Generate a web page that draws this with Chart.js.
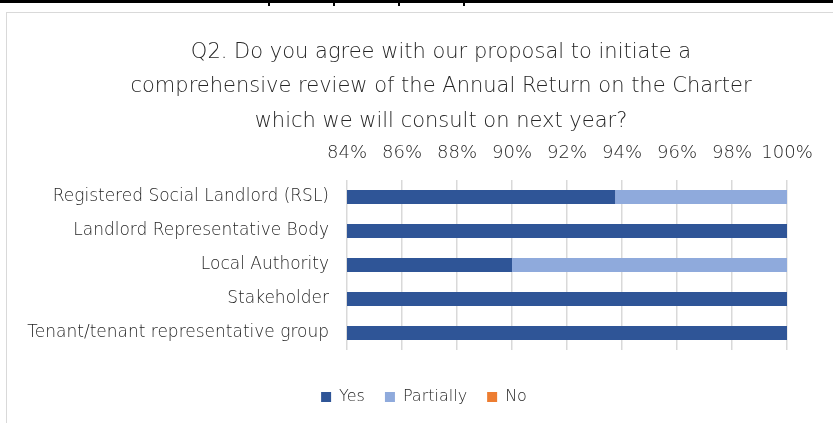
<!DOCTYPE html>
<html>
<head>
<meta charset="utf-8">
<script src="https://cdn.jsdelivr.net/npm/chart.js@4/dist/chart.umd.min.js"></script>
<style>
  html, body { margin: 0; padding: 0; background: #fff; }
  #wrap { position: relative; width: 833px; height: 423px; overflow: hidden; }
  /* table rule above the chart frame */
  .rule { position: absolute; left: 0; top: 0; width: 833px; height: 3px; background: #000; }
  .tick { position: absolute; top: 0; width: 2px; height: 6px; background: #000; }
  .frame { position: absolute; left: 6px; top: 12px; width: 840px; height: 430px; border: 1px solid #d9d9d9; }
  canvas { position: absolute; left: 0; top: 0; }
</style>
</head>
<body>
<div id="wrap">
  <div class="rule"></div>
  <div class="tick" style="left:268px"></div>
  <div class="tick" style="left:333px"></div>
  <div class="tick" style="left:398px"></div>
  <div class="tick" style="left:463px"></div>
  <div class="frame"></div>
  <canvas id="chart" width="833" height="423"></canvas>
</div>
<script>
  // respondent groups, top to bottom
  const categories = [
    'Registered Social Landlord (RSL)',
    'Landlord Representative Body',
    'Local Authority',
    'Stakeholder',
    'Tenant/tenant representative group'
  ];

  // share of responses, in percent
  const yesValues = [93.75, 100, 90, 100, 100];
  const partiallyValues = [6.25, 0, 10, 0, 0];
  const noValues = [0, 0, 0, 0, 0];

  const titleLines = [
    'Q2. Do you agree with our proposal to initiate a',
    'comprehensive review of the Annual Return on the Charter',
    'which we will consult on next year?'
  ];

  const FONT = "'DejaVu Sans', sans-serif";
  const TEXT = '#262626';

  // title sits centred over the whole frame, legend a little left of the plot
  const boxNudge = {
    id: 'boxNudge',
    afterLayout(chart) {
      const t = chart.titleBlock;
      t.left = 95;
      t.right = 787;
      const l = chart.legend;
      l.left = 61;
      l.right = 787;
      l.top += 19;
      l.bottom += 19;
    }
  };

  const ctx = document.getElementById('chart');

  new Chart(ctx, {
    type: 'bar',
    data: {
      labels: categories,
      datasets: [
        { label: 'Yes', data: yesValues, backgroundColor: '#2f5597' },
        { label: 'Partially', data: partiallyValues, backgroundColor: '#8faadc' },
        { label: 'No', data: noValues, backgroundColor: '#ed7d31' }
      ]
    },
    plugins: [boxNudge],
    options: {
      indexAxis: 'y',
      responsive: false,
      animation: false,
      devicePixelRatio: 1,
      datasets: {
        bar: { categoryPercentage: 1, barPercentage: 0.41 }
      },
      layout: {
        padding: { left: 10, right: 46, top: 22, bottom: 27 }
      },
      plugins: {
        title: {
          display: true,
          text: titleLines,
          color: TEXT,
          font: { family: FONT, size: 21, weight: 200, lineHeight: 1.62 },
          padding: { top: 14, bottom: 0 }
        },
        legend: {
          position: 'bottom',
          labels: {
            color: TEXT,
            font: { family: FONT, size: 16, weight: 200 },
            boxWidth: 10,
            boxHeight: 10,
            padding: 20
          }
        },
        tooltip: { enabled: false }
      },
      scales: {
        x: {
          position: 'top',
          stacked: true,
          min: 84,
          max: 100,
          ticks: {
            stepSize: 2,
            color: TEXT,
            font: { family: FONT, size: 18, weight: 200 },
            padding: 16,
            maxRotation: 0,
            minRotation: 0,
            autoSkip: false,
            callback: v => v + '%'
          },
          grid: { color: '#d9d9d9', lineWidth: 1.5, drawTicks: false },
          border: { display: false },
          afterFit: scale => { scale.height = 42; }
        },
        y: {
          stacked: true,
          ticks: {
            color: TEXT,
            font: { family: FONT, size: 17, weight: 200 },
            padding: 18
          },
          grid: { display: false, drawTicks: false },
          border: { display: false },
          afterFit: scale => { scale.width = 337; }
        }
      }
    }
  });
</script>
</body>
</html>
